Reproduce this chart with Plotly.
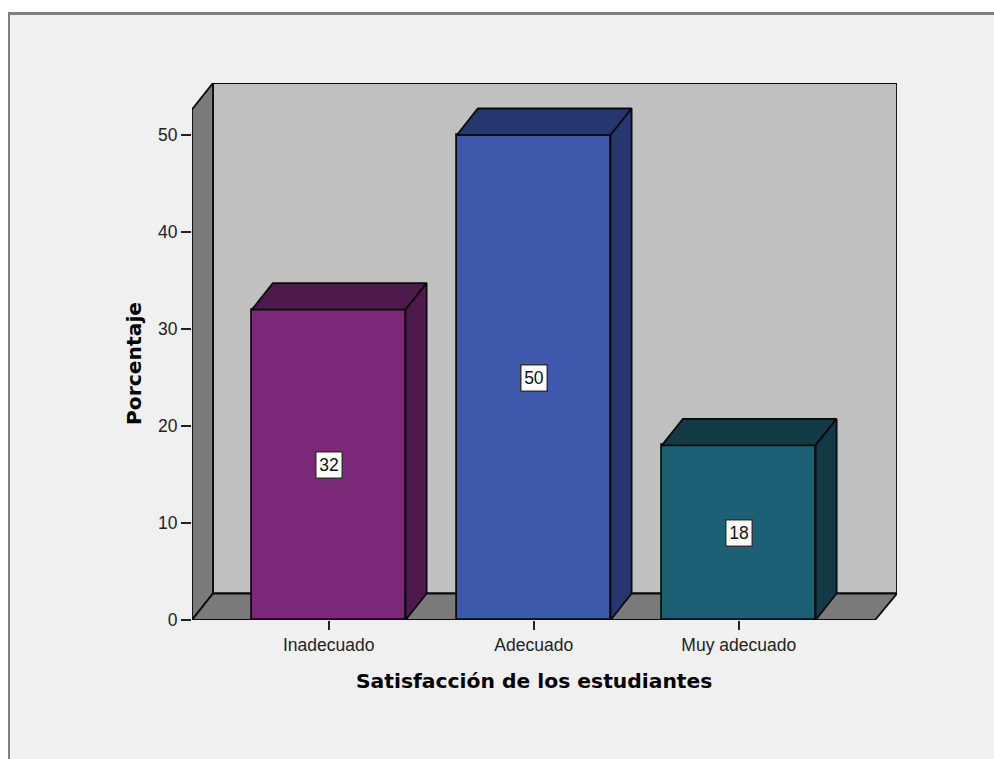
import plotly.graph_objects as go

# Survey results
categories = ["Inadecuado", "Adecuado", "Muy adecuado"]
percentages = [32, 50, 18]
y_ticks = [0, 10, 20, 30, 40, 50]

# Colours of the bars: front face and shaded faces
front_colors = ["#7c2878", "#3e58ac", "#1c6075"]
shade_colors = ["#4e1a4c", "#25376e", "#123a47"]

WALL = "#c0c0c0"
SIDE = "#7a7a7a"
EDGE = "#0a0a0a"
BG = "#f0f0f0"

# Chart box in the page, in pixels
W, H = 994, 759
L, R, T, B = 192, 897, 83, 620

# Extrusion depth and bar width in data units
DX, DY = 0.1024, 2.73
BAR_W = 0.75
X_MIN, X_MAX = -0.667, 2.772
Y_MAX = 55.36
FLOOR_RIGHT = X_MAX - 0.107
WALL_TOP = Y_MAX


def face(xs, ys, fill, axes="", width=1.8):
    return go.Scatter(
        x=xs, y=ys, mode="lines", fill="toself", fillcolor=fill,
        line=dict(color=EDGE, width=width), hoverinfo="skip", showlegend=False,
        cliponaxis=False,
        xaxis="x" + axes, yaxis="y" + axes,
    )


fig = go.Figure()

# Back wall, left wall and floor of the box
x_back = X_MIN + DX
fig.add_trace(face([x_back, X_MAX, X_MAX, x_back, x_back], [0 + DY, DY, WALL_TOP, WALL_TOP, DY], WALL))
fig.add_trace(face([X_MIN, x_back, x_back, X_MIN, X_MIN], [0, DY, WALL_TOP, WALL_TOP - DY, 0], SIDE))
fig.add_trace(face([X_MIN, FLOOR_RIGHT, X_MAX, x_back, X_MIN], [0, 0, DY, DY, 0], SIDE))

# Bars, drawn on an overlaying pair of axes so they sit above the box
positions = list(range(len(categories)))
fig.add_trace(go.Bar(
    x=positions, y=percentages, width=BAR_W,
    marker=dict(color=front_colors, line=dict(color=EDGE, width=1.8)),
    hoverinfo="skip", showlegend=False, cliponaxis=False,
    xaxis="x2", yaxis="y2",
))
for pos, value, shade in zip(positions, percentages, shade_colors):
    x0, x1 = pos - BAR_W / 2, pos + BAR_W / 2
    fig.add_trace(face([x0, x1, x1 + DX, x0 + DX, x0], [value, value, value + DY, value + DY, value], shade, "2"))
    fig.add_trace(face([x1, x1 + DX, x1 + DX, x1, x1], [0, DY, value + DY, value, 0], shade, "2"))

# Value labels in white boxes at the middle of each bar
annotations = [
    dict(x=pos, y=value / 2, xref="x2", yref="y2", text=str(value), showarrow=False,
         font=dict(family="Liberation Sans", size=17.5, color="#111111"),
         bgcolor="#ffffff", bordercolor="#333333", borderwidth=1.5, width=23, height=23)
    for pos, value in zip(positions, percentages)
]
# Axis titles
annotations += [
    dict(x=1.0, y=(B - 681) / (B - T), xref="x2", yref="paper", text="<b>Satisfacción de los estudiantes</b>",
         xanchor="center", yanchor="middle",
         showarrow=False, font=dict(family="DejaVu Sans", size=20.3, color="#000000")),
    dict(x=(134 - L) / (R - L), y=(B - 364) / (B - T), xref="paper", yref="paper", text="<b>Porcentaje</b>",
         xanchor="center", yanchor="middle",
         textangle=-90, showarrow=False, font=dict(family="DejaVu Sans", size=20.3, color="#000000")),
]


def px(x):
    return (x - L) / (R - L)


def py(y):
    return (B - y) / (B - T)


# White page corner with the window frame along the top and left
shapes = [
    dict(type="rect", xref="paper", yref="paper", x0=px(0), x1=px(W), y0=py(0), y1=py(12),
         fillcolor="#ffffff", line_width=0, layer="below"),
    dict(type="rect", xref="paper", yref="paper", x0=px(0), x1=px(8), y0=py(0), y1=py(H),
         fillcolor="#ffffff", line_width=0, layer="below"),
    dict(type="rect", xref="paper", yref="paper", x0=px(8), x1=px(W), y0=py(12), y1=py(15),
         fillcolor="#7f7f7f", line_width=0, layer="below"),
    dict(type="rect", xref="paper", yref="paper", x0=px(8), x1=px(10), y0=py(12), y1=py(H),
         fillcolor="#7f7f7f", line_width=0, layer="below"),
]

fig.update_layout(
    width=W, height=H, autosize=False,
    margin=dict(l=L, r=W - R, t=T, b=H - B, pad=0),
    paper_bgcolor=BG, plot_bgcolor="rgba(0,0,0,0)",
    showlegend=False, bargap=0,
    annotations=annotations, shapes=shapes,
    font=dict(family="Liberation Sans", size=14, color="#222222"),
    xaxis=dict(range=[X_MIN, X_MAX], tickmode="array", tickvals=positions, ticktext=categories,
               ticks="outside", ticklen=9, tickwidth=1.5, tickcolor="#222222",
               showgrid=False, zeroline=False, showline=False, tickfont=dict(size=17.5)),
    yaxis=dict(range=[0, Y_MAX], tickmode="array", tickvals=y_ticks,
               ticks="outside", ticklen=10, tickwidth=1.5, tickcolor="#222222",
               showgrid=False, zeroline=False, showline=False, tickfont=dict(size=17.5)),
    xaxis2=dict(range=[X_MIN, X_MAX], overlaying="x", visible=False),
    yaxis2=dict(range=[0, Y_MAX], overlaying="y", visible=False),
)

fig.write_html("out.html")
